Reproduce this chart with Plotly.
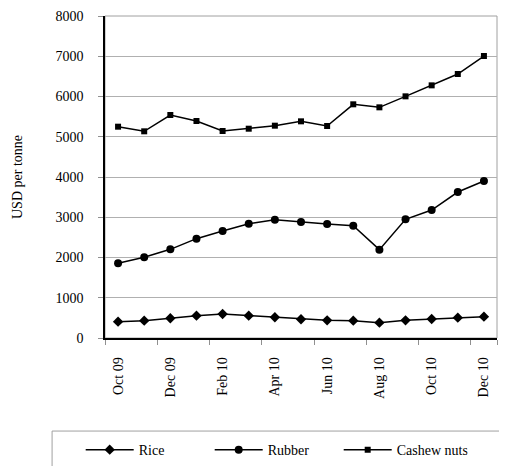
import plotly.graph_objects as go

months = ["Oct 09", "Nov 09", "Dec 09", "Jan 10", "Feb 10", "Mar 10", "Apr 10", "May 10",
          "Jun 10", "Jul 10", "Aug 10", "Sep 10", "Oct 10", "Nov 10", "Dec 10"]
rice = [406, 431, 489, 555, 596, 555, 514, 464, 439, 431, 381, 439, 472, 505, 530]
rubber = [1855, 2004, 2203, 2468, 2658, 2840, 2940, 2882, 2832, 2791, 2195, 2948, 3180, 3627, 3900]
cashew = [5250, 5135, 5540, 5391, 5143, 5200, 5275, 5383, 5267, 5806, 5731, 6004, 6277, 6559, 7006]
tick_labels = months[::2]

FONT = "Liberation Serif"

fig = go.Figure()
series = [("Rice", rice, "diamond", 8), ("Rubber", rubber, "circle", 8), ("Cashew nuts", cashew, "square", 6)]
for name, vals, sym, sz in series:
    fig.add_trace(go.Scatter(
        x=months, y=vals, name=name, mode="lines+markers",
        line=dict(color="black", width=1.5),
        marker=dict(symbol=sym, size=sz, color="black"),
    ))

fig.add_shape(type="rect", xref="paper", yref="paper", x0=0, x1=1, y0=0, y1=1,
              line=dict(color="#a0a0a0", width=1), layer="below")
fig.add_shape(type="rect", xref="paper", yref="paper", x0=-0.135, x1=1.04, y0=-0.289, y1=-0.42,
              line=dict(color="#a0a0a0", width=1), layer="below")

# The page body has an 8px margin, so the figure is sized to fill the rest of the window.
fig.update_layout(
    width=499, height=458,
    margin=dict(l=97, r=10, t=8, b=128, autoexpand=False),
    paper_bgcolor="white", plot_bgcolor="rgba(0,0,0,0)",
    font=dict(family=FONT, size=14, color="black"),
    showlegend=True,
    legend=dict(orientation="h", x=-0.062, xanchor="left", y=-0.348, yanchor="middle",
                font=dict(family=FONT, size=14), bgcolor="rgba(0,0,0,0)",
                itemwidth=48, entrywidth=66, entrywidthmode="pixels", traceorder="normal"),
    xaxis=dict(
        type="category", categoryorder="array", categoryarray=months,
        tickmode="array", tickvals=tick_labels, ticktext=tick_labels,
        tickson="boundaries", ticks="outside", ticklen=5, tickcolor="#909090",
        tickangle=-90, showgrid=False, showline=True, linecolor="black", linewidth=1.5,
        range=[-0.5, 14.5], tickfont=dict(family=FONT, size=14),
        ticklabelstandoff=12, automargin=False,
    ),
    yaxis=dict(
        range=[0, 8000], dtick=1000, tick0=0,
        showgrid=True, gridcolor="#b0b0b0", gridwidth=1,
        ticks="outside", ticklen=5, tickcolor="#909090",
        showline=True, linecolor="black", linewidth=1.5,
        zeroline=False, tickfont=dict(family=FONT, size=14),
        ticklabelstandoff=12, automargin=False,
        title=dict(text="USD per tonne", font=dict(family=FONT, size=14), standoff=30),
    ),
)

fig.write_html("out.html")
